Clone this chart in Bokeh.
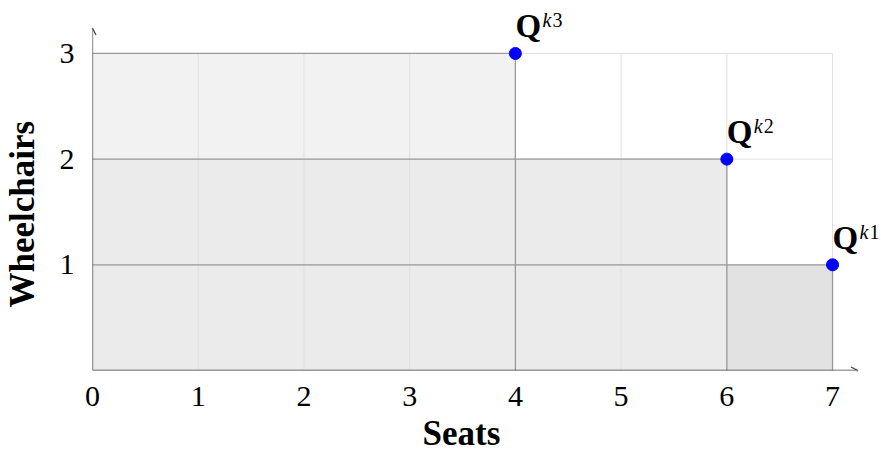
import numpy as np
from bokeh.plotting import figure
from bokeh.models import (Range1d, Arrow, OpenHead, FixedTicker, ColumnDataSource, Title,
                          LinearAxis)
from bokeh.core.properties import value
from bokeh.embed import file_html
from bokeh.resources import INLINE

# ---- data ----
seats = [4, 6, 7]
wheelchairs = [3, 2, 1]
point_names = ["Q", "Q", "Q"]
point_sup_letter = ["k", "k", "k"]
point_sup_digit = ["3", "2", "1"]
fill_colors = ["#f2f2f2", "#ebebeb", "#e2e2e2"]
x_ticks = [0, 1, 2, 3, 4, 5, 6, 7]
y_ticks = [1, 2, 3]
grid_y = [0, 1, 2, 3]
x_label = "Seats"
y_label = "Wheelchairs"

SERIF = "Liberation Serif"

x_max = max(x_ticks)
y_max = max(grid_y)

p = figure(width=881, height=452,
           x_range=Range1d(0, 7.463), y_range=Range1d(0, 3.501),
           output_backend="svg", toolbar_location=None,
           min_border_left=91, min_border_right=0, min_border_top=0, min_border_bottom=82)
p.outline_line_color = None
p.grid.visible = False
p.background_fill_color = "white"

# fills (staircase)
s = np.array(seats, dtype=float)
w = np.array(wheelchairs, dtype=float)
lefts = np.zeros_like(s)
lefts[-1] = s[-2]
fill_src = ColumnDataSource(dict(left=lefts, right=s, bottom=np.zeros_like(w), top=w, color=fill_colors))
p.quad(left="left", right="right", bottom="bottom", top="top", fill_color="color",
       line_color=None, source=fill_src)

# grid
gx = np.array(x_ticks, dtype=float)
gy = np.array(grid_y, dtype=float)
p.segment(x0=gx, y0=np.zeros_like(gx), x1=gx, y1=np.full_like(gx, y_max),
          line_color="#e0e0e0", line_width=1)
p.segment(x0=np.zeros_like(gy), y0=gy, x1=np.full_like(gy, x_max), y1=gy,
          line_color="#e0e0e0", line_width=1)

# outlines of each point's rectangle
p.segment(x0=np.zeros_like(s), y0=w, x1=s, y1=w, line_color="#9a9a9a", line_width=1.3)
p.segment(x0=s, y0=np.zeros_like(w), x1=s, y1=w, line_color="#9a9a9a", line_width=1.3)

# points
pt_src = ColumnDataSource(dict(x=seats, y=wheelchairs, name=point_names,
                               sl=point_sup_letter, sd=point_sup_digit))
p.scatter(x="x", y="y", size=12, fill_color="#0000ff", line_color="#0000ff", source=pt_src)

p.text(x="x", y="y", text="name", source=pt_src, x_offset=0, y_offset=-27,
       text_font=value(SERIF), text_font_style="bold", text_font_size="33px",
       text_baseline="alphabetic", text_align="left", text_color="black")
p.text(x="x", y="y", text="sl", source=pt_src, x_offset=27, y_offset=-33,
       text_font=value(SERIF), text_font_style="italic", text_font_size="20px",
       text_baseline="alphabetic", text_align="left", text_color="black")
p.text(x="x", y="y", text="sd", source=pt_src, x_offset=37, y_offset=-33,
       text_font=value(SERIF), text_font_style="normal", text_font_size="20px",
       text_baseline="alphabetic", text_align="left", text_color="black")

# axes
for ax in (p.xaxis, p.yaxis):
    ax.axis_line_color = None
    ax.major_tick_line_color = None
    ax.minor_tick_line_color = None
    ax.major_tick_out = 0
    ax.major_tick_in = 0
    ax.major_label_text_font = SERIF
    ax.major_label_text_font_size = "30px"
    ax.major_label_text_color = "black"
p.xaxis.ticker = FixedTicker(ticks=x_ticks)
p.yaxis.ticker = FixedTicker(ticks=y_ticks)
p.xaxis.major_label_standoff = 16
p.yaxis.major_label_standoff = 18


def spacer(size):
    # an empty axis whose (white, invisible) tick only reserves room in the side panel
    return LinearAxis(ticker=FixedTicker(ticks=[0], minor_ticks=[]), axis_line_color=None,
                      major_tick_line_color="white", major_tick_line_width=1,
                      minor_tick_line_color=None,
                      major_tick_out=size, major_tick_in=0, minor_tick_out=0, minor_tick_in=0,
                      major_label_overrides={0: ""}, major_label_standoff=0)


# gaps between tick labels and axis titles
p.add_layout(spacer(3), "below")
p.add_layout(spacer(15), "left")

# axis titles
p.add_layout(Title(text=x_label, align="left", offset=330, standoff=0,
                   text_font=SERIF, text_font_size="35px", text_font_style="bold",
                   text_color="black"), "below")
p.add_layout(Title(text=y_label, align="left", offset=63, standoff=0,
                   text_font=SERIF, text_font_size="35px", text_font_style="bold",
                   text_color="black"), "left")

# axis arrows
p.add_layout(Arrow(end=OpenHead(size=7, line_color="#444444", line_width=1.2),
                   x_start=0, y_start=0, x_end=x_max + 0.24, y_end=0,
                   line_color="#444444", line_width=1.3))
p.add_layout(Arrow(end=OpenHead(size=7, line_color="#444444", line_width=1.2),
                   x_start=0, y_start=0, x_end=0, y_end=y_max + 0.24,
                   line_color="#444444", line_width=1.3))

open("out.html", "w").write(file_html(p, INLINE))
